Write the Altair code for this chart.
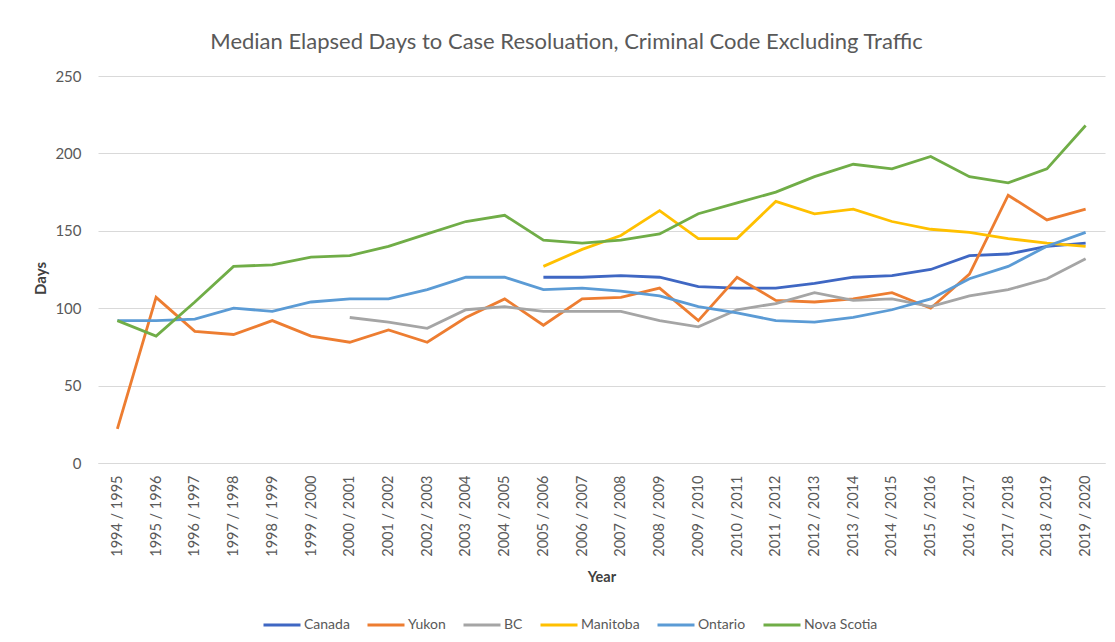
import altair as alt
import pandas as pd

years = ["1994 / 1995", "1995 / 1996", "1996 / 1997", "1997 / 1998", "1998 / 1999",
         "1999 / 2000", "2000 / 2001", "2001 / 2002", "2002 / 2003", "2003 / 2004",
         "2004 / 2005", "2005 / 2006", "2006 / 2007", "2007 / 2008", "2008 / 2009",
         "2009 / 2010", "2010 / 2011", "2011 / 2012", "2012 / 2013", "2013 / 2014",
         "2014 / 2015", "2015 / 2016", "2016 / 2017", "2017 / 2018", "2018 / 2019",
         "2019 / 2020"]

canada = [None] * 11 + [120, 120, 121, 120, 114, 113, 113, 116, 120, 121, 125, 134, 135, 140, 142]
yukon = [22, 107, 85, 83, 92, 82, 78, 86, 78, 94, 106, 89, 106, 107, 113, 92, 120, 105,
         104, 106, 110, 100, 122, 173, 157, 164]
bc = [None] * 6 + [94, 91, 87, 99, 101, 98, 98, 98, 92, 88, 99, 103, 110, 105, 106, 101,
                   108, 112, 119, 132]
manitoba = [None] * 11 + [127, 138, 147, 163, 145, 145, 169, 161, 164, 156, 151, 149, 145, 142, 140]
ontario = [92, 92, 93, 100, 98, 104, 106, 106, 112, 120, 120, 112, 113, 111, 108, 101, 97,
           92, 91, 94, 99, 106, 119, 127, 140, 149]
nova_scotia = [92, 82, 104, 127, 128, 133, 134, 140, 148, 156, 160, 144, 142, 144, 148, 161,
               168, 175, 185, 193, 190, 198, 185, 181, 190, 218]

series_names = ["Canada", "Yukon", "BC", "Manitoba", "Ontario", "Nova Scotia"]
series_values = [canada, yukon, bc, manitoba, ontario, nova_scotia]
series_colors = ["#3F67C3", "#ED7D31", "#A5A5A5", "#FFC000", "#5B9BD5", "#70AD47"]

rows = []
for name, vals in zip(series_names, series_values):
    for i, (yr, v) in enumerate(zip(years, vals)):
        if v is not None:
            rows.append({"Year": yr, "Series": name, "Days": v, "order": i})
df = pd.DataFrame(rows)

FONT = "Lato"
TXT = "#595959"

chart = alt.Chart(df).mark_line(strokeWidth=2.8).encode(
    x=alt.X("Year:N", sort=years,
            scale=alt.Scale(type="point", padding=0.5, domain=years),
            axis=alt.Axis(title="Year", labelAngle=270, labelFontSize=14.5, labelColor=TXT,
                          labelFont=FONT, labelPadding=12, ticks=False,
                          domainColor="#d9d9d9", titleFont=FONT, titleFontSize=14.5,
                          titleFontWeight="bold", titleColor="#404040", titlePadding=14)),
    y=alt.Y("Days:Q",
            scale=alt.Scale(domain=[0, 250]),
            axis=alt.Axis(title="Days", values=[0, 50, 100, 150, 200, 250], domain=False,
                          ticks=False, gridColor="#d9d9d9", labelFontSize=15,
                          labelColor=TXT, labelFont=FONT, labelPadding=17,
                          titleFont=FONT, titleFontSize=15, titleFontWeight="bold",
                          titleColor="#404040", titleX=-58, titleY=202,
                          titleAngle=270, titleAlign="center", titleBaseline="middle")),
    color=alt.Color("Series:N",
                    scale=alt.Scale(domain=series_names, range=series_colors),
                    legend=alt.Legend(title=None, orient="none", direction="horizontal",
                                      legendX=164, legendY=529, symbolType="stroke",
                                      symbolStrokeWidth=3, symbolSize=1369,
                                      labelFont=FONT, labelFontSize=14, labelColor=TXT,
                                      labelOffset=2, columnPadding=11)),
    order="order:Q",
).properties(
    width=1007,
    height=387,
    title=alt.TitleParams("Median Elapsed Days to Case Resoluation, Criminal Code Excluding Traffic",
                          font=FONT, fontSize=22, fontWeight="normal", color=TXT,
                          anchor="middle", offset=15, dx=-35),
    autosize=alt.AutoSizeParams(type="none"),
    padding={"left": 90, "top": 68, "right": 2, "bottom": 170},
).configure_view(stroke=None)

chart.save("out.html", embed_options={"renderer": "svg", "actions": False})
